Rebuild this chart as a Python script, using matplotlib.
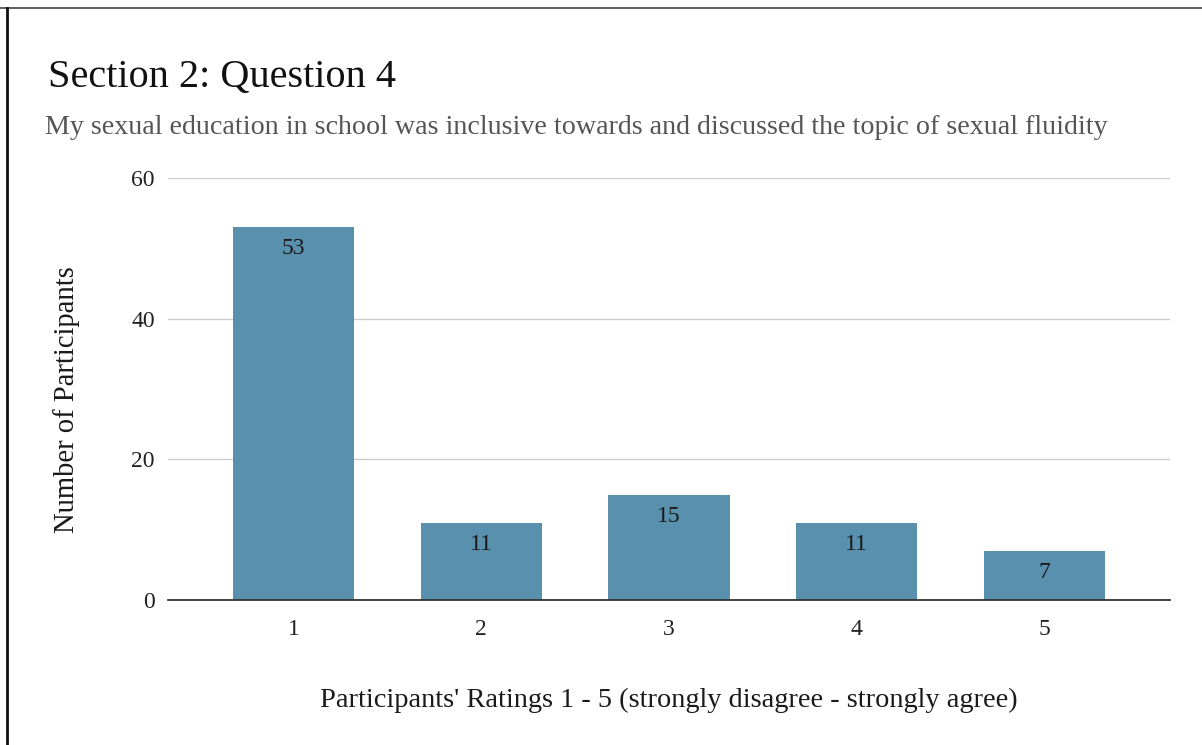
import matplotlib
matplotlib.use("Agg")
import matplotlib.pyplot as plt
from matplotlib.lines import Line2D

categories = ["1", "2", "3", "4", "5"]
values = [53, 11, 15, 11, 7]
yticks = [0, 20, 40, 60]

title = "Section 2: Question 4"
subtitle = "My sexual education in school was inclusive towards and discussed the topic of sexual fluidity"
xlabel = "Participants' Ratings 1 - 5 (strongly disagree - strongly agree)"
ylabel = "Number of Participants"

plt.rcParams['font.family'] = ['Liberation Serif', 'DejaVu Serif']

W, H = 1202, 745
fig = plt.figure(figsize=(W / 100, H / 100), dpi=100)
fig.patch.set_facecolor("white")

# axes placement in pixels
left, right, top, bottom = 168, 1170, 178, 600
ax = fig.add_axes([left / W, 1 - bottom / H, (right - left) / W, (bottom - top) / H])

x = list(range(1, len(categories) + 1))
bars = ax.bar(x, values, width=0.645, color="#5890ae", zorder=3)
for b, v in zip(bars, values):
    ax.annotate(str(v), (b.get_x() + b.get_width() / 2, v), xytext=(0, -8),
                textcoords="offset points", ha="center", va="top",
                fontsize=17, color="#1a1a1a", zorder=4)

ax.set_xlim(0.33, 5.67)
ax.set_ylim(0, 60)
ax.set_yticks(yticks)
ax.set_yticklabels([str(t) for t in yticks], fontsize=17, color="#222222")
ax.set_xticks(x)
ax.set_xticklabels(categories, fontsize=17, color="#222222")
ax.tick_params(axis="both", length=0)
ax.tick_params(axis="y", pad=9.5)
ax.tick_params(axis="x", pad=14)
ax.grid(axis="y", color="#cccccc", linewidth=1, zorder=0)
for s in ["top", "right", "left"]:
    ax.spines[s].set_visible(False)
ax.spines["bottom"].set_color("#333333")
ax.spines["bottom"].set_linewidth(1.3)
ax.spines["bottom"].set_zorder(5)

ax.set_xlabel(xlabel, fontsize=20.4, color="#1a1a1a", labelpad=34)
ax.set_ylabel(ylabel, fontsize=20.6, color="#1a1a1a")
ax.yaxis.set_label_coords(-0.088, 0.474)

fig.text(48 / W, 1 - 87 / H, title, fontsize=29, color="#111111", ha="left", va="baseline")
fig.text(45 / W, 1 - 134 / H, subtitle, fontsize=20.2, color="#555555", ha="left", va="baseline")

# border lines
fig.add_artist(Line2D([0, 1], [1 - 8 / H, 1 - 8 / H], transform=fig.transFigure, color="#444444", linewidth=1.2))
fig.add_artist(Line2D([7 / W, 7 / W], [1 - 8 / H, 0], transform=fig.transFigure, color="#111111", linewidth=2))

fig.savefig("out.png", dpi=100, facecolor="white")
